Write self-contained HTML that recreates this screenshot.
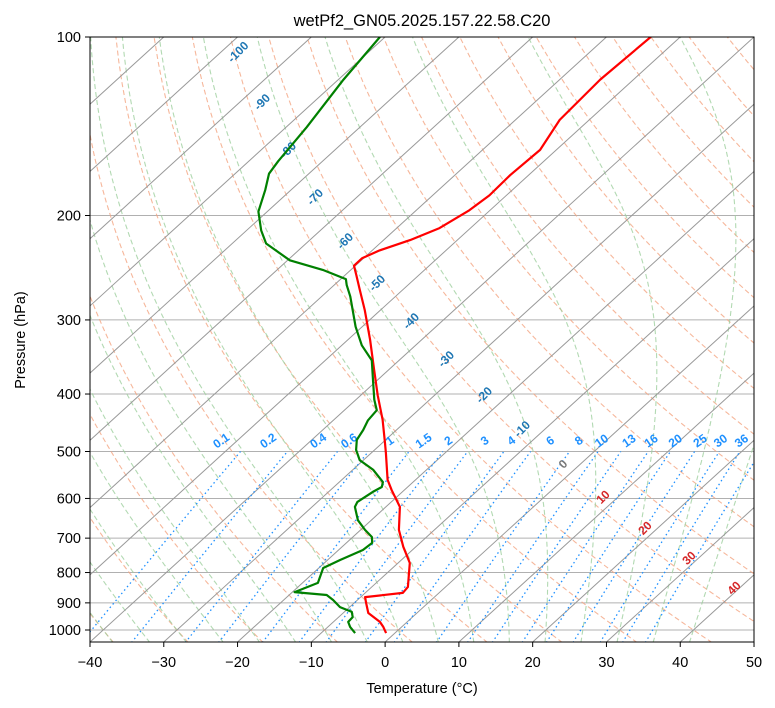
<!DOCTYPE html>
<html><head><meta charset="utf-8"><style>
body{margin:0;background:#fff}
svg{display:block;font-family:"Liberation Sans",sans-serif}
</style></head><body>
<svg id="c" width="775" height="708" viewBox="0 0 775 708">
<defs><clipPath id="pc"><rect x="90" y="37" width="664" height="605"/></clipPath></defs>
<rect x="90" y="37" width="664" height="605" fill="#fff"/>
<g id="bg" clip-path="url(#pc)"></g>
<g id="lbl"></g>
<g id="prof" clip-path="url(#pc)"></g>
<rect x="90" y="37" width="664" height="605" fill="none" stroke="#000" stroke-width="1"/>
<g id="axes"></g>
<text x="422" y="26" text-anchor="middle" font-size="16.5">wetPf2_GN05.2025.157.22.58.C20</text>
<text x="422" y="693" text-anchor="middle" font-size="14.5">Temperature (°C)</text>
<text x="25" y="340" text-anchor="middle" font-size="14.5" transform="rotate(-90 25 340)">Pressure (hPa)</text>
</svg>
<script>
const tempP=[100,118,138,155,171,185,196,210,220,229,236,243,252,267,289,324,364,402,442,484,503,558,581,620,678,724,771,846,866,880,900,936,969,988,1012];
const tempT=[-54.0,-54.5,-54.0,-52.2,-52.5,-52.3,-52.8,-54.2,-56.4,-59.0,-60.2,-60.2,-58.5,-55.8,-52.1,-47.0,-42.0,-37.7,-33.4,-29.6,-28.0,-23.8,-21.7,-18.1,-14.8,-11.7,-8.4,-5.1,-4.9,-9.4,-8.4,-6.6,-3.7,-2.5,-1.2];
const dewP=[100,118,142,162,170,181,197,212,223,238,247,256,262,274,308,331,351,379,409,426,443,460,478,497,517,537,563,574,585,608,620,653,678,697,713,733,762,786,833,863,873,890,915,932,951,969,988,1012];
const dewT=[-90.7,-89.3,-87.2,-86.0,-85.4,-83.5,-81.2,-78.0,-75.4,-69.7,-63.8,-59.3,-58.3,-56.1,-50.9,-47.3,-43.7,-40.6,-37.5,-35.6,-35.3,-34.5,-33.9,-32.5,-30.5,-27.2,-24.1,-23.5,-24.0,-24.6,-24.2,-21.8,-19.4,-17.4,-16.5,-16.7,-18.3,-19.4,-17.9,-19.7,-14.9,-13.3,-11.3,-9.0,-8.1,-8.0,-7.0,-5.4];
const pTicks=[100,200,300,400,500,600,700,800,900,1000];
const tTicks=[-40,-30,-20,-10,0,10,20,30,40,50];
const mixVals=[0.1,0.2,0.4,0.6,1,1.5,2,3,4,6,8,10,13,16,20,25,30,36];
const NS='http://www.w3.org/2000/svg';
function Y(p){return 37+593*Math.log10(p/100);}
function X(T,p){return 90+(T+40)*7.378+(642-Y(p))*1.0975;}
function el(t,a,parent){const e=document.createElementNS(NS,t);for(const k in a)e.setAttribute(k,a[k]);parent.appendChild(e);return e;}
const bg=document.getElementById('bg'),prof=document.getElementById('prof'),ax=document.getElementById('axes'),lbl=document.getElementById('lbl');
function poly(pts){return pts.map(q=>X(q[1],q[0]).toFixed(1)+','+Y(q[0]).toFixed(1)).join(' ');}
pTicks.forEach(p=>{const l=el('line',{x1:90,x2:754,y1:Y(p),y2:Y(p),stroke:'#b0b0b0','stroke-width':1},bg);

});
for(let t0=-50;t0<=200;t0+=10){const th=t0+273.15;const pts=[];for(let p=1050;p>=100;p-=10)pts.push([p,th*Math.pow(p/1000,0.2857)-273.15]);
const l=el('polyline',{points:poly(pts),fill:'none',stroke:'#f4a582','stroke-width':1.1,'stroke-dasharray':'5,3',opacity:0.8},bg);

}
function es(Tc){return 6.112*Math.exp(17.67*Tc/(Tc+243.5));}
function dTdp(T,p){const Tc=T-273.15;const e=es(Tc);const rs=0.622*e/Math.max(p-e,1e-3);const Lv=2.501e6,Rd=287.04,Cp=1005.7;
return (Rd*T+Lv*rs)/(Cp+Lv*Lv*rs*0.622/(Rd*T*T))/p;}
for(let t0=-50;t0<=40;t0+=5){const up=[];let T=t0+273.15;for(let p=1000;p>=100;p-=5){up.push([p,T-273.15]);T-=dTdp(T,p)*5;}
const dn=[];T=t0+273.15;for(let p=1000;p<=1050;p+=5){dn.unshift([p,T-273.15]);T+=dTdp(T,p)*5;}
const l=el('polyline',{points:poly(dn.concat(up)),fill:'none',stroke:'#9fd09f','stroke-width':1.1,'stroke-dasharray':'5,3',opacity:0.8},bg);

}
for(let t=-160;t<=50;t+=10){const l=el('line',{x1:X(t,1050),y1:Y(1050),x2:X(t,100),y2:Y(100),stroke:'#999','stroke-width':1},bg);

}
function tdFromW(w,p){const e=p*w/(0.622+w);const L=Math.log(e/6.112);return 243.5*L/(17.67-L);}
mixVals.forEach(v=>{const w=v/1000;const pts=[];for(let p=1050;p>=500;p-=10)pts.push([p,tdFromW(w,p)]);
const l=el('polyline',{points:poly(pts),fill:'none',stroke:'#1e90ff','stroke-width':1.3,'stroke-dasharray':'1.5,3'},bg);


const x=X(tdFromW(w,500),500)-17,y=444;
const t=el('text',{x:x,y:y,'font-size':12,'font-weight':'bold',fill:'#1e90ff','text-anchor':'middle',transform:`rotate(-35 ${x} ${y})`},lbl);
t.textContent=String(v);

});
const isoLab=[[-100,238,52,'#1f77b4'],[-90,262,102,'#1f77b4'],[-80,288,150,'#1f77b4'],[-70,315,197,'#1f77b4'],[-60,345,241,'#1f77b4'],[-50,377,283,'#1f77b4'],[-40,411,321,'#1f77b4'],[-30,446,359,'#1f77b4'],[-20,484,395,'#1f77b4'],[-10,522,429,'#1f77b4'],[0,563,464,'#777'],[10,603,497,'#d62728'],[20,645,528,'#d62728'],[30,689,558,'#d62728'],[40,734,588,'#d62728']];
isoLab.forEach(a=>{const t=el('text',{x:a[1],y:a[2]+4,'font-size':12,'font-weight':'bold',fill:a[3],'text-anchor':'middle',transform:`rotate(-45 ${a[1]} ${a[2]})`},lbl);
t.textContent=String(a[0]);

});
const tl=el('polyline',{points:poly(tempP.map((p,i)=>[p,tempT[i]])),fill:'none',stroke:'#ff0000','stroke-width':2.2,'stroke-linejoin':'round'},prof);


const dl=el('polyline',{points:poly(dewP.map((p,i)=>[p,dewT[i]])),fill:'none',stroke:'#008000','stroke-width':2.2,'stroke-linejoin':'round'},prof);


pTicks.forEach(p=>{const y=Y(p);el('line',{x1:85,x2:90,y1:y,y2:y,stroke:'#000'},ax);
const t=el('text',{x:81,y:y+5,'font-size':14.5,'text-anchor':'end'},ax);t.textContent=p;

});
tTicks.forEach(v=>{const x=90+(v+40)*7.378;el('line',{x1:x,x2:x,y1:642,y2:647,stroke:'#000'},ax);
const t=el('text',{x:x,y:667,'font-size':14.5,'text-anchor':'middle'},ax);t.textContent=v<0?'\u2212'+(-v):v;

});
</script>
</body></html>
